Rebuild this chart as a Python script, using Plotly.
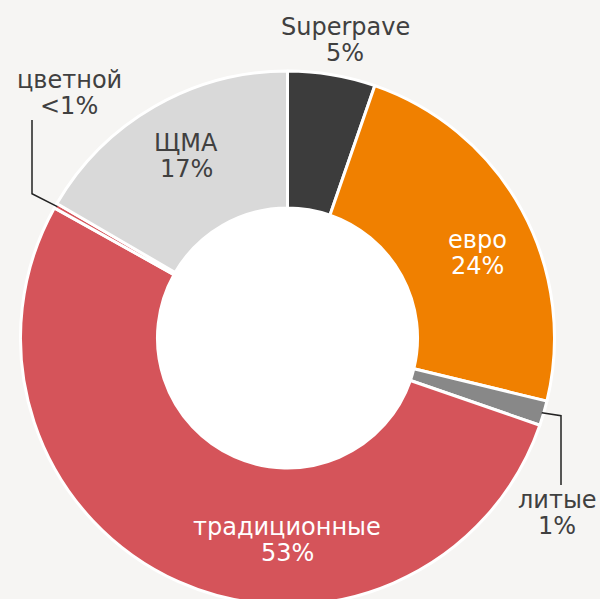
import math
import plotly.graph_objects as go

categories = ["Superpave", "евро", "литые", "традиционные", "цветной", "ЩМА"]
values = [5.3, 23.5, 1.5, 52.8, 0.3, 16.6]
shown = ["5%", "24%", "1%", "53%", "<1%", "17%"]
colors = ["#3c3c3c", "#f08000", "#888888", "#d5545a", "#d5545a", "#d9d9d9"]
text_colors = ["#404040", "#ffffff", "#404040", "#ffffff", "#404040", "#404040"]

W, H = 600, 606          # figure slightly taller than the 599px window; bottom is cropped
cx, cy, R = 287.5, 338.0, 267.0   # pixels, cy from top
hole = 0.487

dom_x = [(cx - R) / W, (cx + R) / W]
dom_y = [max(0.0, (H - cy - R) / H), (H - cy + R) / H]
r_in = R * hole
dom_x_in = [(cx - r_in) / W, (cx + r_in) / W]
dom_y_in = [(H - cy - r_in) / H, (H - cy + r_in) / H]

fig = go.Figure()
# white disc behind the hole
fig.add_trace(go.Pie(values=[1], marker=dict(colors=["#ffffff"]), textinfo="none",
                     hoverinfo="skip", showlegend=False, sort=False,
                     domain=dict(x=dom_x_in, y=dom_y_in)))
fig.add_trace(go.Pie(
    labels=categories, values=values, hole=hole, sort=False, direction="clockwise",
    rotation=0, textinfo="none", showlegend=False,
    marker=dict(colors=colors, line=dict(color="#ffffff", width=3)),
    domain=dict(x=dom_x, y=dom_y),
))

total = sum(values)
cum = 0
mids = []
for v in values:
    mids.append((cum + v / 2) / total * 2 * math.pi)
    cum += v

def px(x, y):
    return x / W, 1 - y / H

# label positions (pixel centre of first line) for each category
label_pos = {
    "Superpave": (345, 27),
    "евро": (477, 240),
    "литые": (557, 500),
    "традиционные": (287, 527),
    "цветной": (69, 80),
    "ЩМА": (186, 143),
}
line_gap = 26
for i, c in enumerate(categories):
    x, y = label_pos[c]
    for j, t in enumerate([c, shown[i]]):
        ax, ay = px(x, y + j * line_gap)
        fig.add_annotation(x=ax, y=ay, xref="paper", yref="paper", showarrow=False,
                           xanchor="center", yanchor="middle", text=t,
                           font=dict(family="DejaVu Sans", size=24, color=text_colors[i]))

# leader lines for small slices
def edge(i, r):
    a = mids[i]
    return cx + r * math.sin(a), cy - r * math.cos(a)

i_lit = categories.index("литые")
x0, y0 = edge(i_lit, R - 2)
pts = [(x0, y0), (561, y0 + 3), (561, 485)]
path = "M " + " L ".join(f"{px(x, y)[0]},{px(x, y)[1]}" for x, y in pts)
fig.add_shape(type="path", path=path, xref="paper", yref="paper",
              line=dict(color="#222222", width=1.5))

i_col = categories.index("цветной")
x0, y0 = edge(i_col, R - 2)
pts = [(x0, y0), (32, y0 - 13), (32, 120)]
path = "M " + " L ".join(f"{px(x, y)[0]},{px(x, y)[1]}" for x, y in pts)
fig.add_shape(type="path", path=path, xref="paper", yref="paper",
              line=dict(color="#222222", width=1.5))

fig.update_layout(width=W, height=H, margin=dict(l=0, r=0, t=0, b=0),
                  paper_bgcolor="#f6f5f3", plot_bgcolor="#f6f5f3")
fig.write_html("out.html", config={"displayModeBar": False},
               post_script="document.body.style.margin='0';"
                           "document.body.style.overflow='hidden';"
                           "document.body.style.background='#f6f5f3';")
